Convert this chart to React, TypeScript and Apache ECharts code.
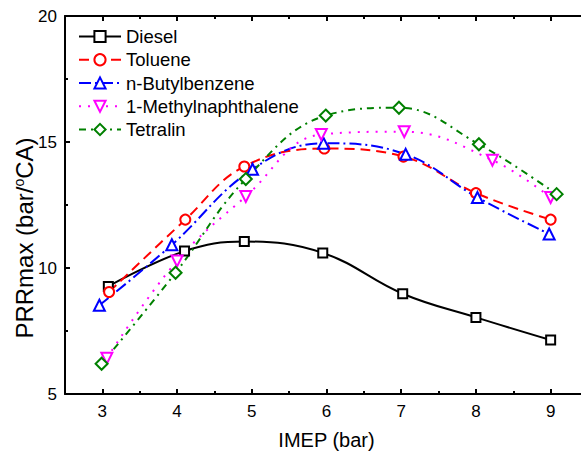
import React, { useEffect, useRef } from "react";
import * as echarts from "echarts";

const seriesNames = ["Diesel", "Toluene", "n-Butylbenzene", "1-Methylnaphthalene", "Tetralin"];

const dieselX = [3.08, 4.1, 4.9, 5.95, 7.02, 8.0, 9.0];
const dieselY = [9.27, 10.67, 11.05, 10.6, 8.98, 8.04, 7.14];

const tolueneX = [3.09, 4.11, 4.9, 5.97, 7.03, 8.0, 9.0];
const tolueneY = [9.05, 11.92, 14.03, 14.74, 14.42, 12.97, 11.92];

const butylX = [2.96, 3.93, 5.01, 5.96, 7.06, 8.02, 8.98];
const butylY = [8.52, 10.92, 13.92, 14.95, 14.51, 12.8, 11.35];

const methylX = [3.06, 4.0, 4.92, 5.93, 7.04, 8.22, 9.0];
const methylY = [6.42, 10.28, 12.84, 15.3, 15.41, 14.28, 12.8];

const tetralinX = [2.99, 3.98, 4.92, 5.99, 6.97, 8.04, 9.08];
const tetralinY = [6.2, 9.81, 13.53, 16.05, 16.36, 14.91, 12.93];

const xMajorTicks = [3, 4, 5, 6, 7, 8, 9];
const xMinorTicks = [3.5, 4.5, 5.5, 6.5, 7.5, 8.5, 9.5];

const FONT = "'Liberation Sans', Arial, sans-serif";
const CHART_W = 600;
const CHART_H = 455;

function pairs(xs: number[], ys: number[]) {
  return xs.map((x, i) => [x, ys[i]]);
}

export default function App() {
  const ref = useRef<HTMLDivElement>(null);
  useEffect(() => {
    if (!ref.current) return;
    const chart = echarts.init(ref.current, undefined, { renderer: "svg" });
    const axisLine = { show: true, lineStyle: { color: "#000", width: 2 } };
    const baseX = { type: "value", min: 2.5, max: 9.5, gridIndex: 0, splitLine: { show: false } };
    const styles = [
      { color: "#000000", type: "solid", symbol: "emptyRect", size: 9, rotate: 0 },
      { color: "#ff0000", type: [10, 6], symbol: "emptyCircle", size: 10, rotate: 0 },
      { color: "#0000ff", type: [12, 4, 2, 4], symbol: "emptyTriangle", size: 11, rotate: 0 },
      { color: "#ff00ff", type: [2, 7], symbol: "emptyTriangle", size: 11, rotate: 180 },
      { color: "#008000", type: [7, 5, 2, 5], symbol: "emptyDiamond", size: 12, rotate: 0 },
    ];
    const datas = [
      pairs(dieselX, dieselY),
      pairs(tolueneX, tolueneY),
      pairs(butylX, butylY),
      pairs(methylX, methylY),
      pairs(tetralinX, tetralinY),
    ];
    chart.setOption({
      animation: false,
      backgroundColor: "#ffffff",
      textStyle: { fontFamily: FONT },
      grid: { left: 65, top: 16, right: CHART_W - 588, bottom: 60, containLabel: false },
      legend: {
        orient: "vertical",
        left: 78,
        top: 27,
        padding: 0,
        itemWidth: 42,
        itemHeight: 14,
        itemGap: 4.25,
        textStyle: { fontSize: 18.5, color: "#000", fontFamily: FONT },
        data: seriesNames,
      },
      graphic: [
        {
          type: "text",
          x: 24,
          y: 238,
          rotation: Math.PI / 2,
          style: {
            text: "{a|PRRmax (bar/}{s|o}{a|CA)}",
            align: "center",
            verticalAlign: "middle",
            fill: "#000",
            font: `24px ${FONT}`,
            rich: {
              a: { fontSize: 24, fontFamily: FONT, fill: "#000" },
              s: { fontSize: 14, fontFamily: FONT, fill: "#000", verticalAlign: "top", padding: [0, 0, 10, 0] },
            },
          },
        },
      ],
      xAxis: [
        {
          ...baseX,
          position: "bottom",
          name: "IMEP (bar)",
          nameLocation: "middle",
          nameGap: 36,
          nameTextStyle: { fontSize: 20, color: "#000", fontFamily: FONT },
          axisLine,
          axisTick: { show: true, inside: true, length: 5, lineStyle: { width: 2, color: "#000" }, customValues: xMajorTicks },
          axisLabel: { show: true, fontSize: 17, color: "#000", margin: 9, fontFamily: FONT, customValues: xMajorTicks },
        },
        {
          ...baseX,
          position: "bottom",
          axisLine: { show: false },
          axisTick: { show: true, inside: true, length: 3, lineStyle: { width: 2, color: "#000" }, customValues: xMinorTicks },
          axisLabel: { show: false },
        },
        {
          ...baseX,
          position: "top",
          axisLine,
          axisTick: { show: true, inside: true, length: 5, lineStyle: { width: 2, color: "#000" }, customValues: xMajorTicks },
          axisLabel: { show: false },
        },
        {
          ...baseX,
          position: "top",
          axisLine: { show: false },
          axisTick: { show: true, inside: true, length: 3, lineStyle: { width: 2, color: "#000" }, customValues: xMinorTicks },
          axisLabel: { show: false },
        },
      ],
      yAxis: [
        {
          type: "value",
          min: 5,
          max: 20,
          interval: 5,
          position: "left",
          splitLine: { show: false },
          axisLine,
          axisTick: { show: true, inside: true, length: 5, lineStyle: { width: 2, color: "#000" } },
          minorTick: { show: true, splitNumber: 2, length: 3, lineStyle: { width: 2, color: "#000" } },
          axisLabel: { fontSize: 17, color: "#000", margin: 8, fontFamily: FONT },
        },
      ],
      series: seriesNames.map((name, i) => ({
        name,
        type: "line",
        xAxisIndex: 0,
        yAxisIndex: 0,
        data: datas[i],
        smooth: 0.4,
        symbol: styles[i].symbol,
        symbolSize: styles[i].size,
        symbolRotate: styles[i].rotate,
        showAllSymbol: true,
        lineStyle: { color: styles[i].color, width: 2, type: styles[i].type },
        itemStyle: { color: styles[i].color, borderColor: styles[i].color, borderWidth: 1.5 },
        emphasis: { disabled: true },
      })),
    });
    return () => chart.dispose();
  }, []);
  return (
    <div style={{ position: "absolute", left: 0, top: 0, width: 581, height: 455, overflow: "hidden", background: "#fff" }}>
      <div ref={ref} style={{ width: CHART_W, height: CHART_H }} />
    </div>
  );
}
